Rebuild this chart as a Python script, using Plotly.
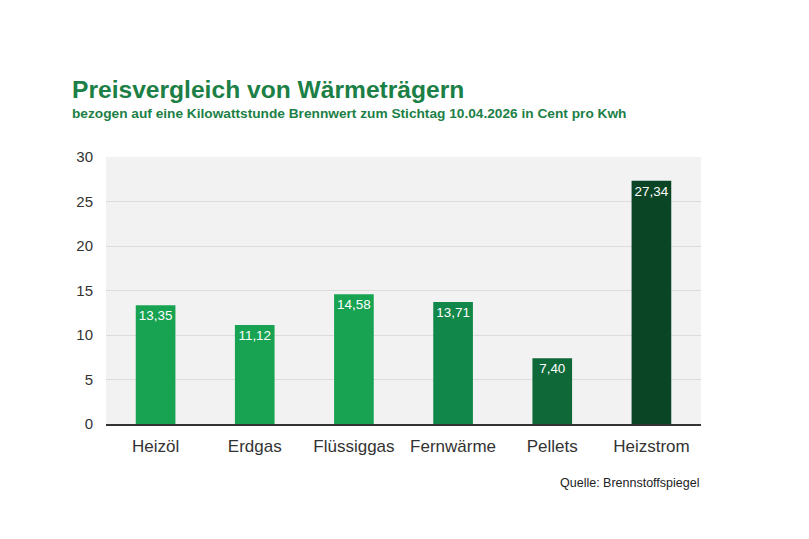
import plotly.graph_objects as go

categories = ["Heizöl", "Erdgas", "Flüssiggas", "Fernwärme", "Pellets", "Heizstrom"]
values = [13.35, 11.12, 14.58, 13.71, 7.40, 27.34]
labels = ["13,35", "11,12", "14,58", "13,71", "7,40", "27,34"]
colors = ["#17a352", "#17a352", "#17a352", "#12874a", "#0e6838", "#0a4525"]
y_ticks = [0, 5, 10, 15, 20, 25, 30]

fig = go.Figure()
fig.add_trace(go.Bar(
    x=categories, y=values, text=labels, textposition="inside",
    insidetextanchor="end", textangle=0,
    textfont=dict(color="white", size=14.5, family="Liberation Sans, Arial"),
    marker=dict(color=colors, line=dict(width=0)),
    width=0.4, hoverinfo="skip",
))

fig.update_layout(
    width=809, height=539,
    margin=dict(l=106, r=108, t=157, b=115),
    paper_bgcolor="white", plot_bgcolor="#f2f2f2",
    font=dict(family="Liberation Sans, Arial", color="#333333"),
    showlegend=False,
    bargap=0.6,
    uniformtext=dict(minsize=8, mode="show"),
)
fig.update_yaxes(range=[0, 30], tickvals=y_ticks, showgrid=True, gridcolor="#dcdcdc",
                 gridwidth=1, zeroline=False, tickfont=dict(size=15, color="#333333"),
                 ticks="", ticklabelstandoff=12)
fig.update_xaxes(showline=True, linecolor="#333333", linewidth=1.5,
                 tickfont=dict(size=17, color="#333333"), ticks="", ticklabelstandoff=6)

fig.add_annotation(text="<b>Preisvergleich von Wärmeträgern</b>", xref="paper", yref="paper",
                   x=-0.06, y=1.0, xanchor="left", yanchor="bottom", yshift=52, showarrow=False,
                   font=dict(size=24.6, color="#1b7f46", family="Liberation Sans, Arial"))
fig.add_annotation(text="<b>bezogen auf eine Kilowattstunde Brennwert zum Stichtag 10.04.2026 in Cent pro Kwh</b>",
                   xref="paper", yref="paper", x=-0.06, y=1.0, xanchor="left", yanchor="bottom",
                   yshift=34, showarrow=False,
                   font=dict(size=13.7, color="#1b7f46", family="Liberation Sans, Arial"))
fig.add_annotation(text="Quelle: Brennstoffspiegel", xref="paper", yref="paper",
                   x=1.0, y=0, xanchor="right", yanchor="top", yshift=-50, showarrow=False,
                   font=dict(size=12.5, color="#222222", family="Liberation Sans, Arial"))

fig.write_html("out.html")
